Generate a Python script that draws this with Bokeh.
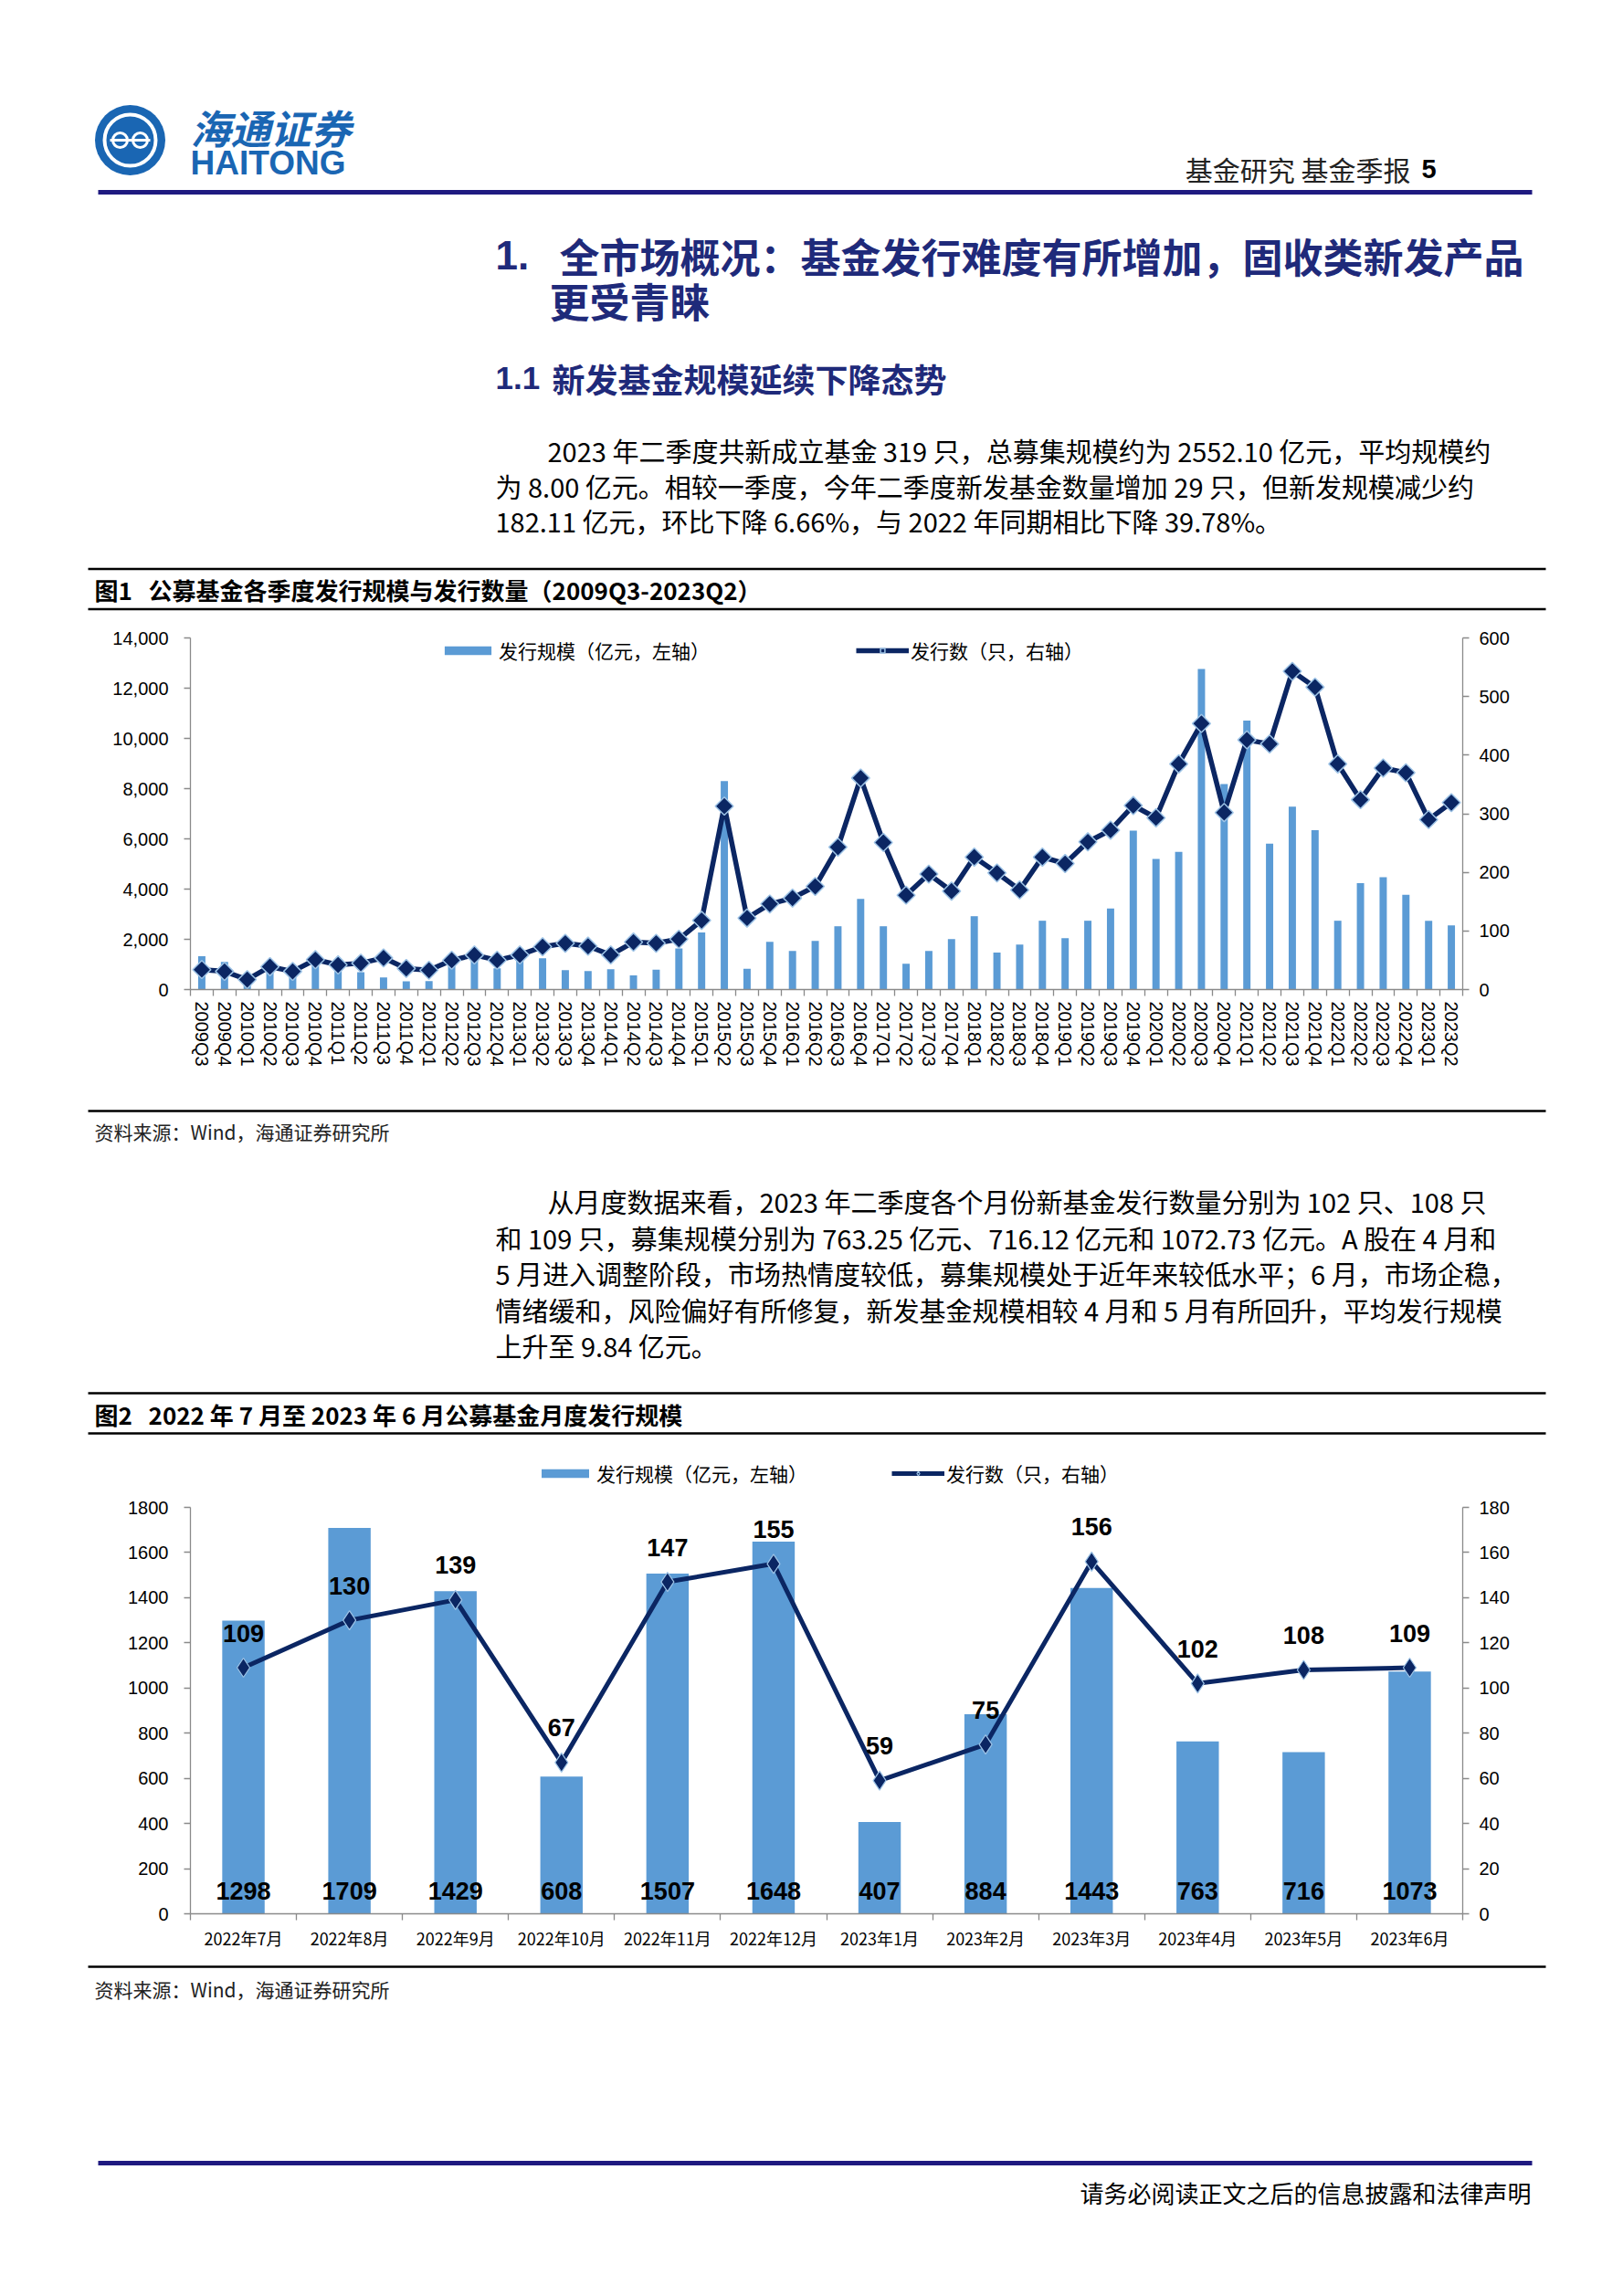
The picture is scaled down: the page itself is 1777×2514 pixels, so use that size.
import math
from bokeh.plotting import figure
from bokeh.models import (Range1d, LinearAxis, FixedTicker, Legend, LegendItem,
                          NumeralTickFormatter, CustomJSTickFormatter)
from bokeh.layouts import column
from bokeh.core.properties import value
from bokeh.embed import file_html
from bokeh.resources import INLINE

# ---------------- data ----------------
quarters = ["2009Q3", "2009Q4", "2010Q1", "2010Q2", "2010Q3", "2010Q4",
            "2011Q1", "2011Q2", "2011Q3", "2011Q4", "2012Q1", "2012Q2",
            "2012Q3", "2012Q4", "2013Q1", "2013Q2", "2013Q3", "2013Q4",
            "2014Q1", "2014Q2", "2014Q3", "2014Q4", "2015Q1", "2015Q2",
            "2015Q3", "2015Q4", "2016Q1", "2016Q2", "2016Q3", "2016Q4",
            "2017Q1", "2017Q2", "2017Q3", "2017Q4", "2018Q1", "2018Q2",
            "2018Q3", "2018Q4", "2019Q1", "2019Q2", "2019Q3", "2019Q4",
            "2020Q1", "2020Q2", "2020Q3", "2020Q4", "2021Q1", "2021Q2",
            "2021Q3", "2021Q4", "2022Q1", "2022Q2", "2022Q3", "2022Q4",
            "2023Q1", "2023Q2"]
quarter_scale = [1330, 1100, 250, 750, 500, 950,
                 730, 690, 480, 330, 340, 970,
                 1150, 850, 1150, 1250, 775, 740,
                 810, 560, 790, 1640, 2270, 8300,
                 825, 1900, 1540, 1940, 2520, 3610,
                 2520, 1030, 1540, 2010, 2920, 1470,
                 1790, 2740, 2045, 2740, 3225, 6330,
                 5200, 5480, 12760, 8180, 10710, 5810,
                 7280, 6350, 2740, 4238, 4470, 3770,
                 2734, 2552]
quarter_count = [34, 31, 17, 39, 31, 51,
                 42, 45, 54, 36, 33, 50,
                 59, 50, 59, 73, 79, 74,
                 59, 81, 79, 86, 118, 313,
                 122, 146, 156, 176, 243, 361,
                 251, 161, 197, 168, 226, 199,
                 170, 226, 215, 252, 272, 314,
                 293, 385, 454, 302, 426, 419,
                 543, 516, 385, 324, 378, 370,
                 290, 319]
left_ticks_1 = [0, 2000, 4000, 6000, 8000, 10000, 12000, 14000]
right_ticks_1 = [0, 100, 200, 300, 400, 500, 600]

months = ["2022年7月", "2022年8月", "2022年9月", "2022年10月", "2022年11月", "2022年12月",
          "2023年1月", "2023年2月", "2023年3月", "2023年4月", "2023年5月", "2023年6月"]
month_scale = [1298, 1709, 1429, 608, 1507, 1648, 407, 884, 1443, 763, 716, 1073]
month_count = [109, 130, 139, 67, 147, 155, 59, 75, 156, 102, 108, 109]
left_ticks_2 = [0, 200, 400, 600, 800, 1000, 1200, 1400, 1600, 1800]
right_ticks_2 = [0, 20, 40, 60, 80, 100, 120, 140, 160, 180]

# ---------------- style ----------------
BAR = "#5b9bd5"
NAVY = "#0b2663"
EDGE = "#9dc3e6"
AXIS = "#8a8a8a"
HEAD = "#1f2a7a"
RULE = "#1f1a80"
LOGO = "#1a66b3"
CJK = "Noto Sans CJK SC"
LAT = "Liberation Sans"
W = 1777
FRAME_L = 208
FRAME_R = 1601
NB = "\u00a0"


def page_fig(top, bottom):
    p = figure(width=W, height=bottom - top, x_range=Range1d(0, W),
               y_range=Range1d(bottom, top), output_backend="svg",
               toolbar_location=None, min_border=0,
               x_axis_location=None, y_axis_location=None)
    p.frame_align = False
    p.grid.visible = False
    p.outline_line_color = None
    return p


def txt(p, x, y, s, size, color="#000000", font=CJK, style="normal", align="left"):
    p.text(x=[x], y=[y], text=[s], text_font=value(font),
           text_font_size=value(f"{size}px"), text_font_style=style,
           text_color=color, text_align=align, text_baseline="middle")


def rule(p, x0, x1, y, w, color="#000000"):
    p.segment(x0=[x0], y0=[y], x1=[x1], y1=[y], line_color=color, line_width=w)


def style_axis(ax, size="20px", font=LAT):
    ax.axis_line_color = AXIS
    ax.axis_line_width = 1.3
    ax.major_tick_line_color = AXIS
    ax.major_tick_line_width = 1.3
    ax.major_tick_in = 0
    ax.major_tick_out = 7
    ax.minor_tick_line_color = None
    ax.major_label_text_font = font
    ax.major_label_text_font_size = size
    ax.major_label_text_color = "#000000"


def style_legend(lg, gw):
    lg.orientation = "horizontal"
    lg.glyph_width = gw
    lg.glyph_height = 12
    lg.label_standoff = 2
    lg.label_height = 26
    lg.label_text_font = CJK
    lg.label_text_font_size = "21px"
    lg.label_text_color = "#000000"
    lg.padding = 0
    lg.margin = 0
    lg.spacing = 0
    lg.border_line_color = None
    lg.background_fill_alpha = 0


# ---------------- page top ----------------
pa = page_fig(0, 670)
pa.scatter(x=[142], y=[153], size=77, marker="circle", fill_color=LOGO, line_color=None)
pa.scatter(x=[142], y=[153], size=56, marker="circle", fill_color=None, line_color="white", line_width=4)
pa.scatter(x=[131, 153], y=[153, 153], size=16, marker="circle", fill_color=None,
           line_color="white", line_width=3)
pa.segment(x0=[120], y0=[153], x1=[164], y1=[153], line_color="white", line_width=3)
txt(pa, 208, 138, "海通证券", 44, LOGO, style="bold italic")
txt(pa, 208, 178, "HAITONG", 37, LOGO, font=LAT, style="bold")
txt(pa, 1544, 184, "基金研究 基金季报", 30, "#222222", align="right")
txt(pa, 1556, 184, "5", 29, "#000000", font=LAT, style="bold")
rule(pa, 107, 1677, 210, 5, RULE)

txt(pa, 542, 279, "1.", 44, HEAD, font=LAT, style="bold")
txt(pa, 612, 279, "全市场概况：基金发行难度有所增加，固收类新发产品", 44, HEAD, style="bold")
txt(pa, 601, 328, "更受青睐", 44, HEAD, style="bold")
txt(pa, 542, 413, "1.1", 35, HEAD, font=LAT, style="bold")
txt(pa, 604, 413, "新发基金规模延续下降态势", 36, HEAD, style="bold")

para1 = ["2023 年二季度共新成立基金 319 只，总募集规模约为 2552.10 亿元，平均规模约",
         "为 8.00 亿元。相较一季度，今年二季度新发基金数量增加 29 只，但新发规模减少约",
         "182.11 亿元，环比下降 6.66%，与 2022 年同期相比下降 39.78%。"]
para1_y = [492, 531, 569]
para1_x = [599, 542, 542]
for s, y, x in zip(para1, para1_y, para1_x):
    txt(pa, x, y, s, 29)

rule(pa, 96, 1692, 622.5, 2.5)
txt(pa, 103, 645, "图1" + NB * 3 + "公募基金各季度发行规模与发行数量（2009Q3-2023Q2）", 26, style="bold")
rule(pa, 96, 1692, 666.5, 2.5)

# ---------------- chart 1 ----------------
n1 = len(quarters)
xq = list(range(n1))
fh1 = 544 - 10 - 131                      # frame height in px
top1 = 14000 * fh1 / 385                  # 14000 sits 385 px above the axis
p1 = figure(width=W, height=544, x_range=Range1d(-0.5, n1 - 0.5), y_range=Range1d(0, top1),
            output_backend="svg", toolbar_location=None,
            x_axis_location=None, y_axis_location=None,
            min_border_left=FRAME_L, min_border_right=W - FRAME_R,
            min_border_top=10, min_border_bottom=131)
p1.frame_align = False
p1.extra_y_ranges = {"cnt": Range1d(0, top1 * 600 / 14000)}
p1.outline_line_color = None
p1.grid.visible = False

axL = LinearAxis(ticker=FixedTicker(ticks=left_ticks_1), formatter=NumeralTickFormatter(format="0,0"))
style_axis(axL)
axL.bounds = (0, 14000)
axL.major_label_standoff = 17
p1.add_layout(axL, "left")
axR = LinearAxis(y_range_name="cnt", ticker=FixedTicker(ticks=right_ticks_1))
style_axis(axR)
axR.bounds = (0, 600)
axR.major_label_standoff = 11
p1.add_layout(axR, "right")
axT = LinearAxis(ticker=FixedTicker(ticks=[i - 0.5 for i in range(n1 + 1)]),
                 formatter=CustomJSTickFormatter(code="return ''"))
style_axis(axT)
axT.major_label_text_font_size = "0px"
axT.major_label_standoff = 0
p1.add_layout(axT, "below")
axX = LinearAxis(ticker=FixedTicker(ticks=xq),
                 major_label_overrides={i: q for i, q in enumerate(quarters)})
style_axis(axX)
axX.axis_line_color = None
axX.major_tick_line_color = None
axX.major_tick_out = 0
axX.major_label_orientation = -math.pi / 2
axX.major_label_standoff = 6
p1.add_layout(axX, "below")

bars1 = p1.vbar(x=xq, top=quarter_scale, width=0.32, fill_color=BAR, line_color=None)
line1 = p1.line(xq, quarter_count, y_range_name="cnt", line_color=NAVY, line_width=5.5,
                line_join="round")
mk1 = p1.scatter(xq, quarter_count, y_range_name="cnt", marker="square", angle=math.pi / 4,
                 size=14, fill_color=NAVY, line_color=EDGE, line_width=1.5)

lg1a = Legend(items=[LegendItem(label="发行规模（亿元，左轴）", renderers=[bars1])], location=(272, 356))
style_legend(lg1a, 64)
p1.add_layout(lg1a)
lg1b = Legend(items=[LegendItem(label="发行数（只，右轴）", renderers=[line1, mk1])], location=(729, 356))
style_legend(lg1b, 58)
p1.add_layout(lg1b)

# ---------------- middle text ----------------
pc = page_fig(1214, 1572)
rule(pc, 96, 1692, 1216, 2.5)
txt(pc, 103, 1238, "资料来源：Wind，海通证券研究所", 21, "#222222")
para2 = ["从月度数据来看，2023 年二季度各个月份新基金发行数量分别为 102 只、108 只",
         "和 109 只，募集规模分别为 763.25 亿元、716.12 亿元和 1072.73 亿元。A 股在 4 月和",
         "5 月进入调整阶段，市场热情度较低，募集规模处于近年来较低水平；6 月，市场企稳，",
         "情绪缓和，风险偏好有所修复，新发基金规模相较 4 月和 5 月有所回升，平均发行规模",
         "上升至 9.84 亿元。"]
para2_y = [1314, 1354, 1393, 1433, 1472]
para2_x = [599, 542, 542, 542, 542]
for s, y, x in zip(para2, para2_y, para2_x):
    txt(pc, x, y, s, 29)
rule(pc, 96, 1692, 1525, 2.5)
txt(pc, 103, 1548, "图2" + NB * 3 + "2022 年 7 月至 2023 年 6 月公募基金月度发行规模", 26, style="bold")
rule(pc, 96, 1692, 1569, 2.5)

# ---------------- chart 2 ----------------
n2 = len(months)
xm = list(range(n2))
top2 = 1800 * 505 / 445
p2 = figure(width=W, height=578, x_range=Range1d(-0.5, n2 - 0.5), y_range=Range1d(0, top2),
            output_backend="svg", toolbar_location=None,
            x_axis_location=None, y_axis_location=None,
            min_border_left=FRAME_L, min_border_right=W - FRAME_R,
            min_border_top=18, min_border_bottom=55)
p2.frame_align = False
p2.extra_y_ranges = {"cnt": Range1d(0, top2 / 10)}
p2.outline_line_color = None
p2.grid.visible = False

bL = LinearAxis(ticker=FixedTicker(ticks=left_ticks_2), formatter=NumeralTickFormatter(format="0"))
style_axis(bL)
bL.bounds = (0, 1800)
bL.major_label_standoff = 17
p2.add_layout(bL, "left")
bR = LinearAxis(y_range_name="cnt", ticker=FixedTicker(ticks=right_ticks_2))
style_axis(bR)
bR.bounds = (0, 180)
bR.major_label_standoff = 11
p2.add_layout(bR, "right")
bT = LinearAxis(ticker=FixedTicker(ticks=[i - 0.5 for i in range(n2 + 1)]),
                formatter=CustomJSTickFormatter(code="return ''"))
style_axis(bT)
bT.major_label_text_font_size = "0px"
bT.major_label_standoff = 0
p2.add_layout(bT, "below")
bX = LinearAxis(ticker=FixedTicker(ticks=xm),
                major_label_overrides={i: m for i, m in enumerate(months)})
style_axis(bX, size="18px", font=CJK)
bX.axis_line_color = None
bX.major_tick_line_color = None
bX.major_tick_out = 0
bX.major_label_standoff = 6
p2.add_layout(bX, "below")

bars2 = p2.vbar(x=xm, top=month_scale, width=0.4, fill_color=BAR, line_color=None)
line2 = p2.line(xm, month_count, y_range_name="cnt", line_color=NAVY, line_width=5,
                line_join="round")
mk2 = p2.scatter(xm, month_count, y_range_name="cnt", marker="diamond", size=21,
                 fill_color=NAVY, line_color=EDGE, line_width=1.2)
p2.text(x=xm, y=0, text=[str(v) for v in month_scale], text_font=value(LAT),
        text_font_style="bold", text_font_size=value("27px"), text_align="center",
        text_baseline="middle", y_offset=-25, text_color="#000000")
p2.text(x=xm, y=month_count, text=[str(v) for v in month_count], y_range_name="cnt",
        text_font=value(LAT), text_font_style="bold", text_font_size=value("27px"),
        text_align="center", text_baseline="middle", y_offset=-38, text_color="#000000")

lg2a = Legend(items=[LegendItem(label="发行规模（亿元，左轴）", renderers=[bars2])], location=(378, 467))
style_legend(lg2a, 65)
p2.add_layout(lg2a)
lg2b = Legend(items=[LegendItem(label="发行数（只，右轴）", renderers=[line2, mk2])], location=(768, 467))
style_legend(lg2b, 58)
p2.add_layout(lg2b)

# ---------------- page bottom ----------------
pe = page_fig(2150, 2506)
rule(pe, 96, 1692, 2153, 2.5)
txt(pe, 103, 2177, "资料来源：Wind，海通证券研究所", 21, "#222222")
rule(pe, 107, 1677, 2368, 5, RULE)
txt(pe, 1676, 2400, "请务必阅读正文之后的信息披露和法律声明", 26, "#000000", align="right")

page = column(pa, p1, pc, p2, pe, spacing=0)
open("out.html", "w").write(file_html(page, INLINE))
